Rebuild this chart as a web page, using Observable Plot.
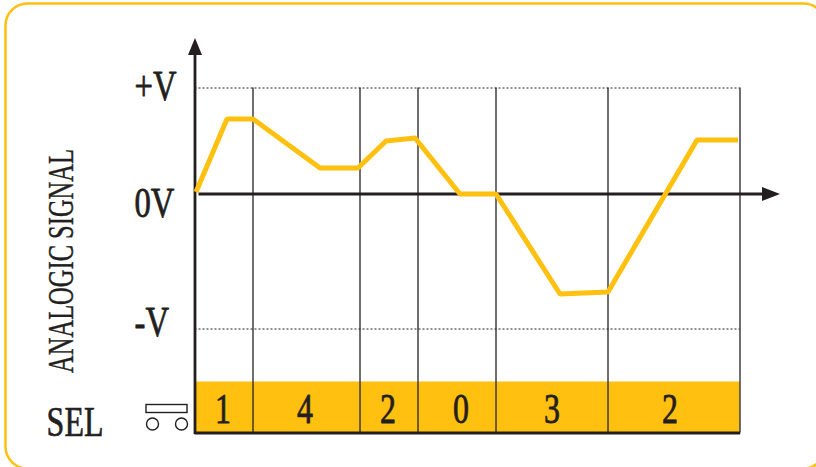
<!DOCTYPE html>
<html>
<head>
<meta charset="utf-8">
<style>
html,body{margin:0;padding:0;background:#fff;}
svg{display:block;}
</style>
<script src="https://cdn.jsdelivr.net/npm/d3@7"></script>
<script src="https://cdn.jsdelivr.net/npm/@observablehq/plot@0.6"></script>
</head>
<body>
<div id="chart"></div>
<script>
// Time along the horizontal axis, and signal level (+V = 106, -V = -135 in drawing units)
const signalTime  = [1, 32, 58, 125, 163, 191, 220, 265, 301, 365, 413, 502, 543];
const signalLevel = [2, 75, 75, 26, 26, 53, 56, 0, 0, -100, -98, 54, 54];
const selBoundaries = [0, 58, 165, 223, 301, 413, 545];
const selValues = ["1", "4", "2", "0", "3", "2"];
const selLabelTime = [28, 110, 193, 266, 357, 475];
const levelTicks = [106, -135];
const levelLabels = ["+V", "0V", "-V"];
const levelLabelAt = [108, -9, -128];

const AMBER = "#ffc00f", INK = "#231f20";
const signal = signalTime.map((t, i) => ({t, v: signalLevel[i]}));
const segments = selValues.map((s, i) => ({s, a: selBoundaries[i], b: selBoundaries[i + 1], at: selLabelTime[i]}));
const bandTop = -188, bandBottom = -239;
const tEnd = selBoundaries[selBoundaries.length - 1];

const arrowHead = {draw(ctx, l, r) { ctx.moveTo(0, -l); ctx.lineTo(7, 0); ctx.lineTo(-7, 0); ctx.closePath(); }};

const plot = Plot.plot({
  width: 816, height: 467,
  marginTop: 0, marginRight: 0, marginBottom: 0, marginLeft: 0,
  x: {type: "linear", domain: [-194.5, 621.5], range: [0, 816], axis: null},
  y: {type: "linear", domain: [-273.5, 193.5], range: [467, 0], axis: null},
  style: {background: "#fff", fontFamily: "Liberation Serif"},
  marks: [
    // panel border
    Plot.rect([0], {x1: -189, x2: 631, y1: -275, y2: 190, rx: 22, fill: "none", stroke: AMBER, strokeWidth: 2.5}),
    // SEL band
    Plot.rect(segments, {x1: "a", x2: "b", y1: bandTop, y2: bandBottom, fill: AMBER}),
    // dotted levels
    Plot.ruleY(levelTicks, {x1: 0, x2: tEnd, stroke: INK, strokeWidth: 1, strokeDasharray: "2 2"}),
    // dividers
    Plot.ruleX(selBoundaries.slice(1), {y1: levelTicks[0], y2: bandBottom, stroke: INK, strokeWidth: 1.3}),
    // axes
    Plot.ruleX([0], {y1: bandBottom - 1.5, y2: 145, stroke: INK, strokeWidth: 2.8}),
    Plot.ruleY([0], {x1: 4, x2: 570, stroke: INK, strokeWidth: 2.8}),
    Plot.ruleY([bandBottom], {x1: 0, x2: tEnd + 0.7, stroke: INK, strokeWidth: 3}),
    Plot.vector([0], {x: 0, y: 139, length: 17, rotate: 0, anchor: "start", shape: arrowHead, fill: INK, stroke: "none"}),
    Plot.vector([0], {x: 567, y: 0, length: 18, rotate: 90, anchor: "start", shape: arrowHead, fill: INK, stroke: "none"}),
    // signal
    Plot.line(signal, {x: "t", y: "v", stroke: AMBER, strokeWidth: 5, strokeLinejoin: "miter", strokeLinecap: "butt", curve: "linear"}),
    // SEL symbol
    Plot.rect([0], {x1: -48.5, x2: -7.5, y1: -211, y2: -219, fill: "#fff", stroke: INK, strokeWidth: 1.4}),
    Plot.dot([-42.5, -13.5], {x: d => d, y: -230, r: 6, fill: "#fff", stroke: INK, strokeWidth: 1.4}),
    // text
    Plot.text(segments, {x: "at", y: -216, text: "s", fontSize: 42, fill: INK, stroke: INK, strokeWidth: 0.8, className: "cond"}),
    Plot.text(levelLabels, {x: -60.5, y: (d, i) => levelLabelAt[i], text: d => d, textAnchor: "start", fontSize: 43, fill: INK, stroke: INK, strokeWidth: 0.8, className: "cond"}),
    Plot.text(["SEL"], {x: -120, y: -229, text: d => d, fontSize: 42, fill: INK, stroke: INK, strokeWidth: 0.7, className: "cond"}),
    Plot.text(["ANALOGIC SIGNAL"], {x: -133.5, y: -67, text: d => d, rotate: -90, fontSize: 35, fill: INK, stroke: INK, strokeWidth: 0.4, className: "cond2"})
  ]
});
document.getElementById("chart").append(plot);
function condense(sel, k) {
  plot.querySelectorAll(sel + " text").forEach(t => {
    const n = t.getComputedTextLength();
    t.setAttribute("textLength", n * k);
    t.setAttribute("lengthAdjust", "spacingAndGlyphs");
  });
}
condense(".cond", 0.76);
condense(".cond2", 0.70);
</script>
</body>
</html>
